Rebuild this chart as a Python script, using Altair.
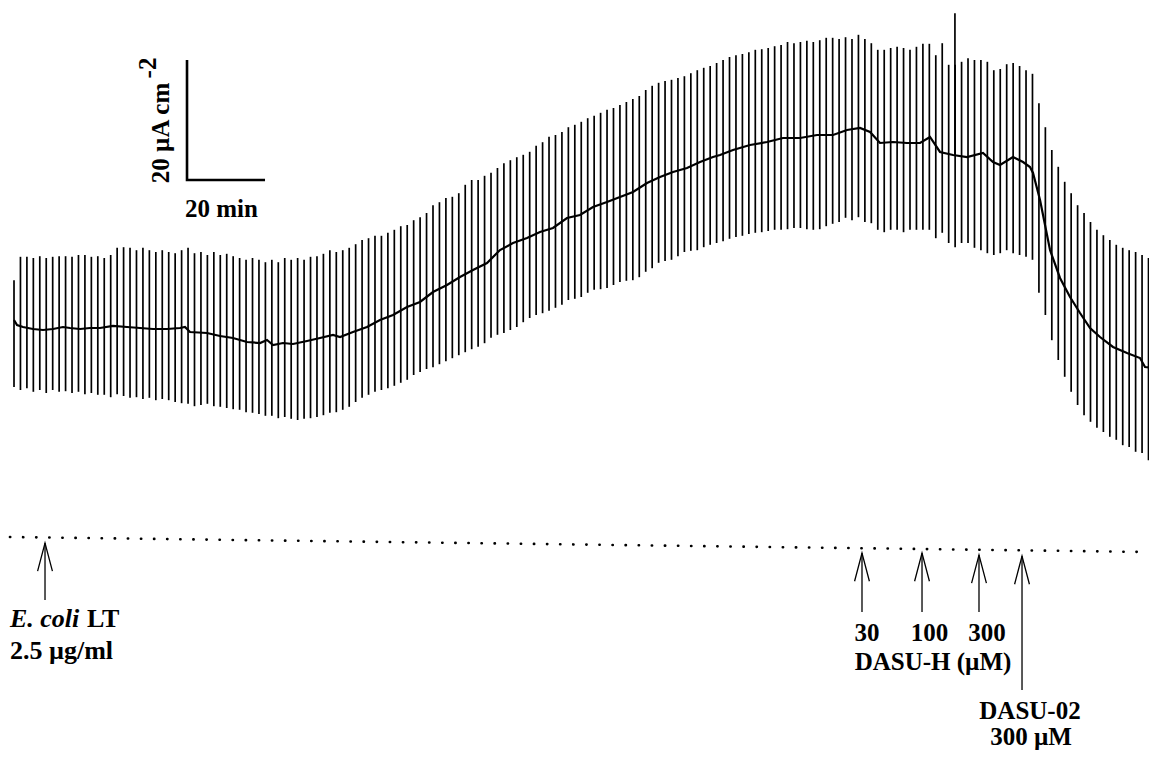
import altair as alt
import pandas as pd

# ---------------- data (time in min, current in uA cm^-2) ----------------
pulse_start = 1.54        # first voltage pulse (min)
pulse_interval = 1.6528   # pulse period (min)

spike_top = [
    43.3, 47.2, 47.2, 47.0, 47.3, 47.0, 47.2, 47.3, 47.3, 47.2, 47.5, 47.5, 47.2, 47.3, 47.0, 47.5,
    48.7, 48.8, 48.7, 48.3, 48.7, 48.3, 48.0, 48.3, 48.0, 47.8, 48.3, 48.7, 47.8, 48.0, 47.5, 48.0,
    47.5, 47.7, 47.3, 47.0, 46.7, 47.0, 46.7, 46.3, 46.7, 46.3, 47.0, 46.7, 47.0, 46.7, 47.2, 47.3,
    47.7, 48.3, 48.0, 48.3, 48.7, 49.3, 50.0, 50.3, 50.7, 50.7, 51.2, 51.7, 52.3, 52.5, 53.3, 53.8,
    54.5, 55.8, 56.3, 57.0, 57.2, 57.8, 59.2, 60.0, 60.0, 60.7, 61.2, 62.0, 62.8, 63.3, 63.8, 64.2,
    64.7, 65.7, 66.3, 67.2, 67.5, 68.0, 68.8, 69.2, 69.7, 70.3, 70.7, 71.2, 71.7, 72.0, 72.5, 73.0,
    73.5, 74.0, 75.0, 75.7, 76.2, 76.5, 76.7, 77.0, 77.3, 77.8, 78.3, 78.7, 79.0, 79.5, 80.0, 80.5,
    80.8, 81.0, 81.3, 81.7, 81.8, 82.0, 82.3, 82.5, 83.0, 82.8, 83.0, 83.2, 83.0, 83.3, 83.7, 83.7,
    83.5, 83.8, 83.5, 84.2, 83.5, 82.8, 81.7, 81.7, 82.0, 82.2, 82.0, 81.7, 82.2, 82.7, 82.7, 80.8,
    82.8, 79.2, 79.2, 79.7, 80.3, 80.0, 80.0, 79.7, 78.3, 78.5, 79.3, 79.5, 79.0, 78.3, 77.7, 72.8,
    68.8, 65.0, 62.2, 59.7, 57.8, 55.8, 54.5, 53.0, 51.7, 50.8, 50.0, 49.2, 48.7, 48.3, 48.0, 47.5, 47.0, 46.3,
]
spike_bottom = [
    25.5, 25.0, 25.3, 24.7, 25.0, 24.5, 25.0, 24.7, 24.8, 24.5, 24.7, 24.3, 24.5, 24.2, 24.2, 23.8,
    24.3, 24.0, 23.7, 23.8, 23.5, 23.7, 23.3, 23.5, 23.3, 23.0, 22.8, 22.7, 22.3, 22.5, 22.7, 22.3,
    22.2, 22.0, 21.8, 21.7, 21.3, 21.2, 21.0, 20.7, 20.7, 20.3, 20.5, 20.2, 20.0, 20.2, 20.3, 20.5,
    20.8, 21.2, 21.3, 21.7, 22.2, 23.0, 23.7, 24.2, 24.7, 25.0, 25.3, 25.7, 26.2, 26.7, 27.5, 28.0,
    28.5, 28.8, 29.3, 29.8, 30.3, 30.8, 31.3, 31.8, 32.2, 32.8, 33.7, 34.2, 34.5, 35.0, 35.5, 36.3,
    37.0, 37.5, 37.8, 38.2, 38.7, 39.2, 40.0, 40.2, 40.5, 41.2, 41.7, 41.8, 42.0, 42.5, 43.0, 43.2,
    43.3, 43.8, 44.7, 45.3, 46.2, 46.5, 46.7, 47.3, 48.0, 48.2, 48.3, 48.8, 49.2, 49.5, 49.8, 50.2,
    50.5, 50.7, 51.0, 51.2, 51.3, 51.5, 51.7, 51.7, 51.8, 52.0, 52.0, 51.8, 51.7, 51.8, 52.3, 52.7,
    53.0, 53.7, 53.3, 53.8, 53.0, 52.8, 51.7, 51.3, 51.7, 51.7, 51.3, 51.7, 51.7, 51.7, 51.7, 50.3,
    51.2, 49.5, 48.8, 49.5, 49.5, 48.7, 48.3, 47.8, 47.5, 47.8, 48.3, 47.8, 47.5, 47.2, 46.7, 41.2,
    37.5, 33.3, 30.0, 27.2, 24.7, 22.5, 20.8, 19.7, 18.7, 18.0, 17.2, 16.7, 15.8, 15.5, 14.7, 14.5, 13.3, 12.5,
]
spike_t = [round(pulse_start + pulse_interval * k, 3) for k in range(len(spike_top))]

baseline_t = [1.54, 2.31, 3.85, 6.41, 8.97, 11.54, 14.10, 15.90, 18.46, 21.03, 23.59, 26.92, 30.51,
              33.85, 37.18, 40.77, 44.10, 45.38, 46.67, 51.03, 54.36, 57.69, 61.28, 64.62, 66.41,
              67.95, 70.51, 73.08, 76.67, 80.0, 83.33, 85.13, 88.46, 92.05, 95.38, 98.72, 102.31,
              105.64, 108.97, 112.56, 115.90, 119.23, 122.82, 126.15, 129.49, 133.08, 136.41,
              139.74, 143.33, 146.67, 150.0, 153.59, 156.92, 160.26, 163.85, 167.18, 170.51,
              174.10, 177.44, 180.77, 182.56, 185.90, 190.26, 194.62, 198.72, 203.08, 207.44,
              211.54, 215.13, 218.46, 221.03, 223.59, 226.92, 230.51, 233.85, 236.41, 238.97,
              242.31, 245.90, 250.0, 252.56, 254.36, 257.69, 260.26, 262.05, 262.82, 264.62,
              266.67, 267.18, 269.74, 272.31, 274.87, 277.44, 280.0, 283.33, 286.92, 290.26,
              291.54, 294.62]
baseline_I = [36.67, 35.83, 35.5, 35.17, 35.0, 35.17, 35.5, 35.33, 35.17, 35.33, 35.33, 35.67, 35.5,
              35.33, 35.17, 35.17, 35.33, 35.5, 34.67, 34.5, 34.0, 33.67, 33.0, 32.83, 33.33,
              32.5, 32.83, 32.67, 33.17, 33.67, 34.17, 33.83, 34.67, 35.5, 36.67, 37.5, 38.83,
              39.67, 41.33, 42.5, 43.83, 45.0, 46.17, 48.33, 49.5, 50.33, 51.33,
              52.0, 53.67, 54.17, 55.5, 56.33, 57.17, 58.0, 59.5, 60.5, 61.33,
              62.0, 63.0, 63.83, 64.17, 65.0, 65.83, 66.33, 67.0, 67.0, 67.5,
              67.5, 68.33, 68.67, 68.0, 66.17, 66.33, 66.17, 66.17, 67.17, 64.67,
              64.17, 63.83, 64.5, 63.0, 62.5, 63.83, 63.0, 62.17, 61.17, 56.67,
              50.0, 48.33, 43.67, 40.5, 37.83, 35.33, 33.83, 32.17, 31.17, 30.33,
              28.83, 28.67]

artifact_t = [242.8]
artifact_low = [64.2]
artifact_high = [87.8]

zero_t = [0.5, 292.3]
zero_I = [0.5, -2.0]

scalebar_t0 = 45.9
scalebar_I0 = 60.0
scalebar_len = 20  # 20 min and 20 uA cm^-2

arrow_id = ["lt", "d30", "d100", "d300", "d02"]
arrow_t = [9.49, 218.97, 234.36, 248.97, 260.0]
arrow_tip = [-0.5, -2.17, -2.17, -2.5, -2.67]
arrow_tail = [-10.0, -12.0, -12.0, -12.0, -25.0]

# labels
lab_center_text = ["30", "100", "300", "DASU-H (\u00b5M)", "DASU-02", "300 \u00b5M"]
lab_center_t = [220.26, 236.28, 251.03, 237.18, 262.05, 262.31]
lab_center_I = [-16.8, -16.8, -16.8, -21.7, -29.8, -34.1]

lab_left_text = ["LT", "2.5 \u00b5g/ml"]
lab_left_t = [20.26, 0.51]
lab_left_I = [-14.5, -19.8]

lab_italic_text = ["E. coli"]
lab_italic_t = [0.51]
lab_italic_I = [-14.5]

# ---------------- chart ----------------
FONT = "Liberation Serif"
W, H = 1141, 742
xs = alt.Scale(domain=[0, 292.56], nice=False, zero=False)
ys = alt.Scale(domain=[-35, 88.667], nice=False, zero=False)


def X(f="t"):
    return alt.X(f"{f}:Q", scale=xs, axis=None)


def Y(f="I"):
    return alt.Y(f"{f}:Q", scale=ys, axis=None)


spikes_df = pd.DataFrame({"t": spike_t, "top": spike_top, "bottom": spike_bottom})
spikes = alt.Chart(spikes_df).mark_rule(color="black", strokeWidth=1.7, clip=True).encode(
    x=X(), y=Y("bottom"), y2="top:Q")

art_df = pd.DataFrame({"t": artifact_t, "lo": artifact_low, "hi": artifact_high})
artifact = alt.Chart(art_df).mark_rule(color="black", strokeWidth=1.7).encode(
    x=X(), y=Y("lo"), y2="hi:Q")

base_df = pd.DataFrame({"t": baseline_t, "I": baseline_I})
base = alt.Chart(base_df).mark_line(color="black", strokeWidth=2.2, clip=True).encode(
    x=X(), y=Y())

zero_df = pd.DataFrame({"t": zero_t, "I": zero_I})
zero = alt.Chart(zero_df).mark_line(color="black", strokeWidth=2.6, strokeCap="round",
                                    strokeDash=[0.3, 12.8]).encode(x=X(), y=Y())

sb_df = pd.DataFrame({
    "t": [scalebar_t0, scalebar_t0, scalebar_t0 + scalebar_len],
    "I": [scalebar_I0 + scalebar_len, scalebar_I0, scalebar_I0],
    "o": [0, 1, 2]})
scalebar = alt.Chart(sb_df).mark_line(color="black", strokeWidth=2.6, strokeJoin="miter").encode(
    x=X(), y=Y(), order="o:Q")

shaft_rows = [{"t": t, "a": a, "b": b} for t, a, b in zip(arrow_t, arrow_tip, arrow_tail)]
shafts = alt.Chart(pd.DataFrame(shaft_rows)).mark_rule(color="black", strokeWidth=1.3).encode(
    x=X(), y=Y("a"), y2="b:Q")

head_dt, head_dI = 1.9, 4.7
head_rows = []
for aid, t, a in zip(arrow_id, arrow_t, arrow_tip):
    head_rows += [{"id": aid, "o": 0, "t": t - head_dt, "I": a - head_dI},
                  {"id": aid, "o": 1, "t": t, "I": a},
                  {"id": aid, "o": 2, "t": t + head_dt, "I": a - head_dI}]
heads = alt.Chart(pd.DataFrame(head_rows)).mark_line(color="black", strokeWidth=1.3).encode(
    x=X(), y=Y(), detail="id:N", order="o:Q")

txt_c = alt.Chart(pd.DataFrame({"t": lab_center_t, "I": lab_center_I, "s": lab_center_text})).mark_text(
    font=FONT, fontWeight="bold", fontSize=25, align="center", baseline="alphabetic", color="black"
).encode(x=X(), y=Y(), text="s:N")

txt_l = alt.Chart(pd.DataFrame({"t": lab_left_t, "I": lab_left_I, "s": lab_left_text})).mark_text(
    font=FONT, fontWeight="bold", fontSize=26, align="left", baseline="alphabetic", color="black"
).encode(x=X(), y=Y(), text="s:N")

txt_i = alt.Chart(pd.DataFrame({"t": lab_italic_t, "I": lab_italic_I, "s": lab_italic_text})).mark_text(
    font=FONT, fontWeight="bold", fontStyle="italic", fontSize=26, align="left",
    baseline="alphabetic", color="black"
).encode(x=X(), y=Y(), text="s:N")

txt_min = alt.Chart(pd.DataFrame({"t": [54.74], "I": [53.83], "s": ["20 min"]})).mark_text(
    font=FONT, fontWeight="bold", fontSize=25, align="center", baseline="alphabetic", color="black"
).encode(x=X(), y=Y(), text="s:N")

txt_ua = alt.Chart(pd.DataFrame({"t": [41.28, 37.95], "I": [67.83, 78.67],
                                 "s": ["20 \u00b5A cm", "-2"]})).mark_text(
    font=FONT, fontWeight="bold", fontSize=25, align="center", baseline="alphabetic",
    angle=270, color="black"
).encode(x=X(), y=Y(), text="s:N")

chart = alt.layer(
    spikes, artifact, base, zero, scalebar, shafts, heads,
    txt_c, txt_l, txt_i, txt_min, txt_ua
).properties(
    width=W, height=H, padding=0, autosize=alt.AutoSizeParams(type="none"),
    background="white"
).configure_view(stroke=None)

chart.save("out.html", embed_options={"renderer": "svg", "actions": False})
